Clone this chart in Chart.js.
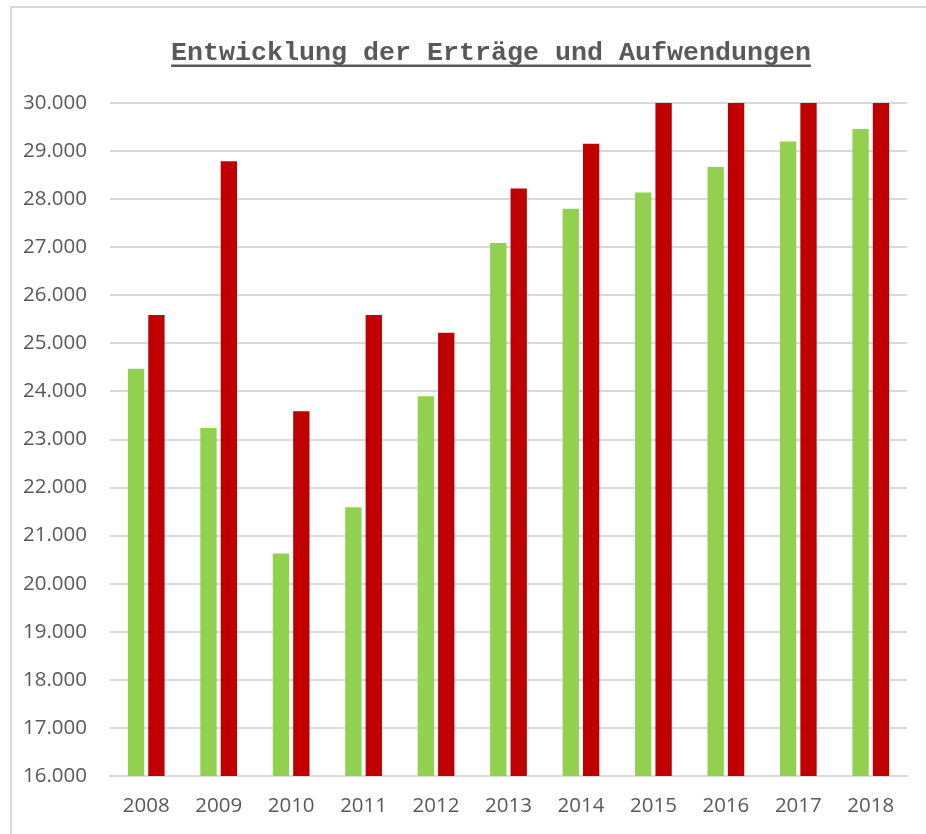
<!DOCTYPE html>
<html>
<head>
<meta charset="utf-8">
<script src="https://cdn.jsdelivr.net/npm/chart.js@4/dist/chart.umd.min.js"></script>
<style>
  html, body { margin: 0; padding: 0; background: #ffffff; }
  #wrap { position: relative; width: 926px; height: 834px; }
</style>
</head>
<body>
<div id="wrap"><canvas id="c" width="926" height="834"></canvas></div>
<script>
const chartTitle = 'Entwicklung der Erträge und Aufwendungen';
const years = ['2008', '2009', '2010', '2011', '2012', '2013', '2014', '2015', '2016', '2017', '2018'];
const ertraege = [24470, 23240, 20630, 21590, 23900, 27090, 27800, 28140, 28670, 29200, 29460];
const aufwendungen = [25590, 28790, 23590, 25590, 25220, 28220, 29150, 30400, 30600, 30800, 31000];
const seriesNames = ['Erträge', 'Aufwendungen'];
const yMin = 16000, yMax = 30000, yStep = 1000;

function fmt(v) {
  return String(v).replace(/\B(?=(\d{3})+(?!\d))/g, '.');
}

const decor = {
  id: 'decor',
  beforeDraw(chart) {
    const ctx = chart.ctx;
    ctx.save();
    ctx.strokeStyle = '#d9d9d9';
    ctx.lineWidth = 2;
    ctx.beginPath();
    ctx.moveTo(11, 840);
    ctx.lineTo(11, 7);
    ctx.lineTo(930, 7);
    ctx.stroke();
    ctx.restore();
  },
  afterDraw(chart) {
    const ctx = chart.ctx;
    ctx.save();
    ctx.font = 'bold 26.67px "Liberation Mono"';
    ctx.fillStyle = '#595959';
    ctx.textAlign = 'center';
    ctx.textBaseline = 'alphabetic';
    const cx = 491;
    ctx.fillText(chartTitle, cx, 60);
    const w = ctx.measureText(chartTitle).width;
    ctx.fillRect(cx - w / 2, 64.5, w, 2.5);
    ctx.restore();
  }
};

new Chart(document.getElementById('c'), {
  type: 'bar',
  data: {
    labels: years,
    datasets: [
      { label: seriesNames[0], data: ertraege, backgroundColor: '#92D050', clip: 0,
        barPercentage: 0.8, categoryPercentage: 0.563 },
      { label: seriesNames[1], data: aufwendungen, backgroundColor: '#C00000', clip: 0,
        barPercentage: 0.8, categoryPercentage: 0.563 }
    ]
  },
  options: {
    responsive: false,
    animation: false,
    layout: { padding: { left: 0, right: 19, top: 103, bottom: 0 } },
    plugins: {
      legend: { display: false },
      title: { display: false },
      tooltip: { enabled: false }
    },
    scales: {
      x: {
        grid: { display: false, drawTicks: false },
        border: { display: true, color: '#d9d9d9', width: 2 },
        ticks: { color: '#595959', font: { family: '"Open Sans"', size: 20.5 }, padding: 18, maxRotation: 0 },
        afterFit(s) { s.height = 58; }
      },
      y: {
        min: yMin, max: yMax,
        grid: { color: '#d9d9d9', lineWidth: 2, drawTicks: false },
        border: { display: false },
        ticks: { stepSize: yStep, color: '#595959', font: { family: '"Open Sans"', size: 20.5 }, padding: 23,
                 callback: (v) => fmt(v) },
        afterFit(s) { s.width = 110; }
      }
    }
  },
  plugins: [decor]
});
</script>
</body>
</html>
